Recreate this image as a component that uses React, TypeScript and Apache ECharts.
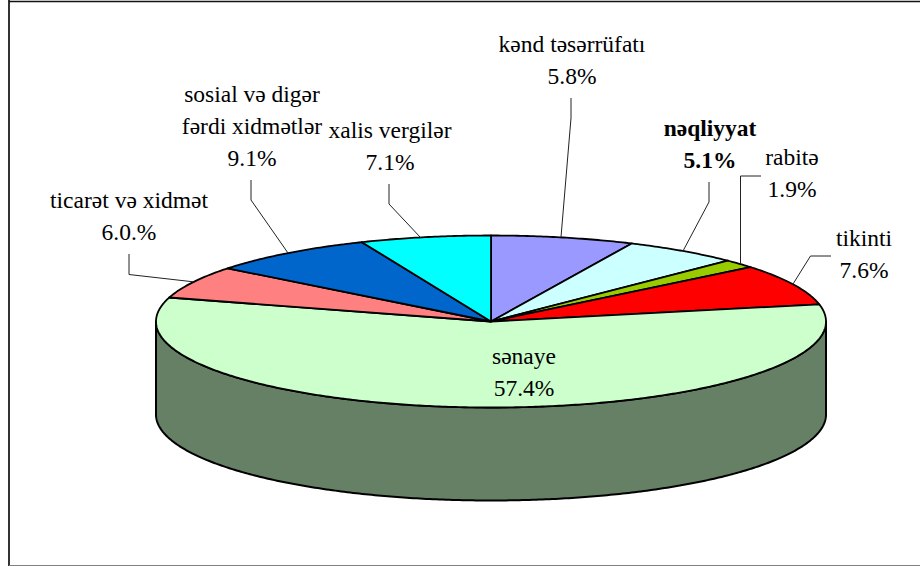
import React, { useEffect, useRef } from "react";
import * as echarts from "echarts";

const sectors = ["kənd təsərrüfatı", "nəqliyyat", "rabitə", "tikinti", "sənaye", "ticarət və xidmət", "sosial və digər\nfərdi xidmətlər", "xalis vergilər"];
// Printed percentages, exactly as the reference writes them.
const printedPercent = ["5.8%", "5.1%", "1.9%", "7.6%", "57.4%", "6.0.%", "9.1%", "7.1%"];
const drawnShares = [6.9, 5.6, 1.6, 7.7, 57.7, 6.1, 8.1, 6.3];
const sliceColors = ["#9999FF", "#CCFFFF", "#99CC00", "#FF0000", "#CCFFCC", "#FF8080", "#0066CC", "#00FFFF"];

const WALL = "#668066";
const CX = 491, CY = 321.5, RX = 335, RY = 86, DEPTH = 93;
const FONT_FAMILY = '"Liberation Serif"';

// Layout of the outside labels: label centre, then leader polyline.
const labelCentres: number[][] = [[572, 60], [710, 144], [792, 173], [864, 254], [524, 372], [129, 216], [252, 126], [390, 146]];
const leaders: number[][][] = [
  [[571, 98], [571, 118], [561, 237]],
  [[709, 182], [709, 202], [683, 251]],
  [[761, 176], [740.5, 176], [740.5, 264]],
  [[831, 256], [810.5, 256], [793, 284]],
  [],
  [[129, 254], [129, 274.5], [195, 282]],
  [[251, 180], [251, 200], [288, 253]],
  [[389, 184], [389, 204], [421, 238]],
];

const total = drawnShares.reduce((a, b) => a + b, 0);
const startAngles: number[] = [];
drawnShares.reduce((acc, v, i) => { startAngles[i] = acc; return acc + v; }, 0);

const toRad = (share: number) => (share / total) * 2 * Math.PI;
const rimPoint = (a: number, dy = 0) => [CX + RX * Math.sin(a), CY - RY * Math.cos(a) + dy];
const arcPoints = (a0: number, a1: number, dy = 0) => {
  const n = Math.max(2, Math.ceil((a1 - a0) / 0.01));
  const pts: number[][] = [];
  for (let k = 0; k <= n; k++) pts.push(rimPoint(a0 + ((a1 - a0) * k) / n, dy));
  return pts;
};

export default function App() {
  const ref = useRef<HTMLDivElement>(null);
  useEffect(() => {
    const chart = echarts.init(ref.current!, undefined, { renderer: "svg" });
    const seriesData = drawnShares.map((v, i) => ({ name: sectors[i], value: v }));
    chart.setOption({
      animation: false,
      backgroundColor: "#ffffff",
      graphic: [
        { type: "line", z: 1, shape: { x1: 9, y1: 0, x2: 9, y2: 566 }, style: { stroke: "#333", lineWidth: 2 } },
        { type: "line", z: 1, shape: { x1: 9, y1: 1.5, x2: 920, y2: 1.5 }, style: { stroke: "#111", lineWidth: 1.5 } },
        { type: "line", z: 1, shape: { x1: 9, y1: 565.5, x2: 920, y2: 565.5 }, style: { stroke: "#808080", lineWidth: 1 } },
      ],
      series: [
        {
          // Side wall: only the part of each slice that faces the viewer.
          type: "custom",
          coordinateSystem: "none",
          z: 2,
          data: seriesData,
          renderItem: (params: any, api: any) => {
            const i = params.dataIndex;
            const a0 = toRad(startAngles[i]);
            const a1 = a0 + toRad(api.value(0));
            const from = Math.max(a0, Math.PI / 2);
            const to = Math.min(a1, (3 * Math.PI) / 2);
            if (to <= from) return { type: "group", children: [] };
            const pts = [...arcPoints(from, to, 0), ...arcPoints(from, to, DEPTH).reverse()];
            return {
              type: "polygon",
              shape: { points: pts },
              style: { fill: WALL, stroke: "#000", lineWidth: 2, lineJoin: "round" },
            };
          },
        },
        {
          // Top face of the pie.
          type: "custom",
          coordinateSystem: "none",
          z: 3,
          data: seriesData,
          renderItem: (params: any, api: any) => {
            const i = params.dataIndex;
            const a0 = toRad(startAngles[i]);
            const a1 = a0 + toRad(api.value(0));
            return {
              type: "polygon",
              shape: { points: [[CX, CY], ...arcPoints(a0, a1)] },
              style: { fill: sliceColors[i], stroke: "#000", lineWidth: 1.8, lineJoin: "round" },
            };
          },
        },
        {
          // Leader lines and labels.
          type: "custom",
          coordinateSystem: "none",
          z: 4,
          data: seriesData,
          renderItem: (params: any) => {
            const i = params.dataIndex;
            const children: any[] = [];
            if (leaders[i].length) {
              children.push({
                type: "polyline",
                shape: { points: leaders[i] },
                style: { fill: "none", stroke: "#222", lineWidth: 1 },
              });
            }
            const bold = sectors[i] === "nəqliyyat";
            children.push({
              type: "text",
              style: {
                text: sectors[i] + "\n" + printedPercent[i],
                x: labelCentres[i][0],
                y: labelCentres[i][1],
                align: "center",
                verticalAlign: "middle",
                font: `${bold ? "bold " : ""}23.5px ${FONT_FAMILY}`,
                lineHeight: 32,
                fill: "#000",
              },
            });
            return { type: "group", children };
          },
        },
      ],
    });
    return () => chart.dispose();
  }, []);
  return <div ref={ref} style={{ position: "fixed", left: 0, top: 0, width: 920, height: 566 }} />;
}
